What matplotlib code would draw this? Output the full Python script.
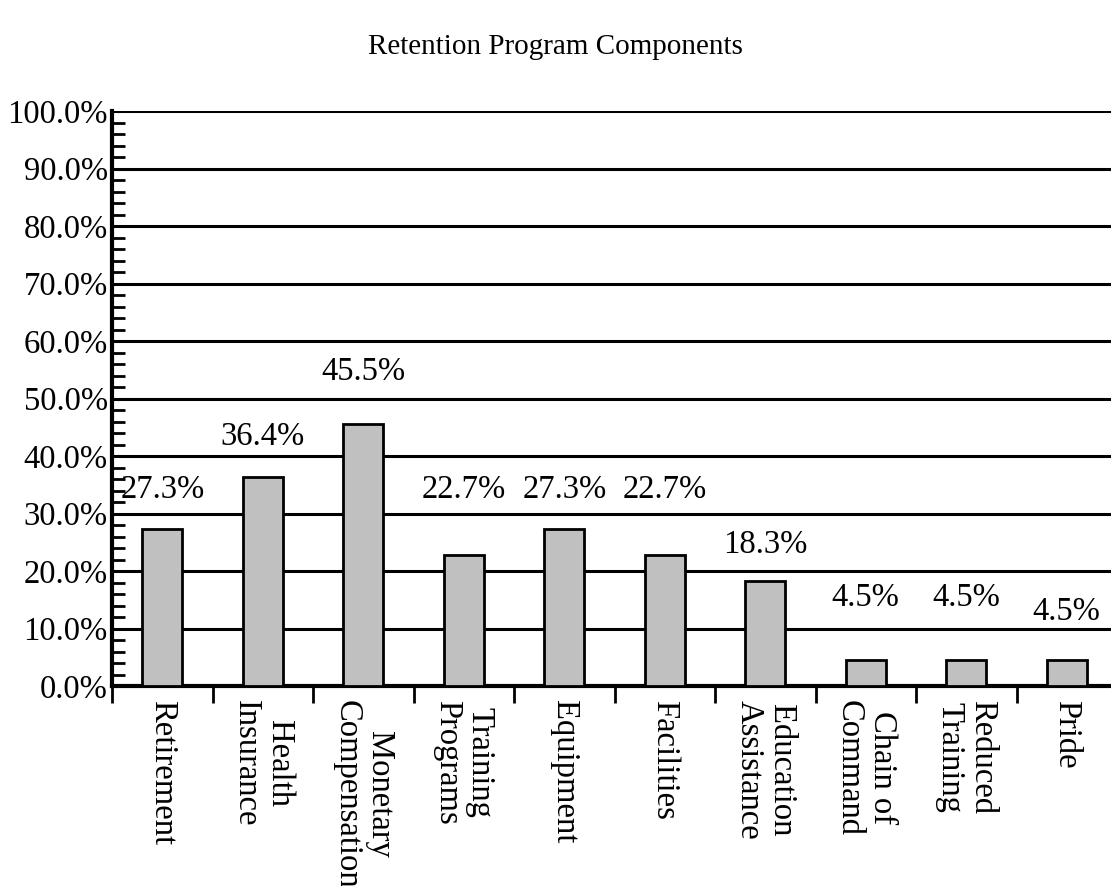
import numpy as np
import matplotlib
matplotlib.use("Agg")
import matplotlib.pyplot as plt
from matplotlib.ticker import MultipleLocator, FixedLocator, NullFormatter, FixedFormatter

plt.rcParams['font.family'] = ['Liberation Serif', 'DejaVu Serif']

# data
categories = ["Retirement", "Health\nInsurance", "Monetary\nCompensation", "Training\nPrograms",
              "Equipment", "Facilities", "Education\nAssistance", "Chain of\nCommand",
              "Reduced\nTraining", "Pride"]
values = [27.3, 36.4, 45.5, 22.7, 27.3, 22.7, 18.3, 4.5, 4.5, 4.5]
value_labels = ["27.3%", "36.4%", "45.5%", "22.7%", "27.3%", "22.7%", "18.3%", "4.5%", "4.5%", "4.5%"]

# where the value labels sit (layout, in axis units)
label_y = [34.1, 43.3, 54.6, 34.1, 34.1, 34.1, 24.5, 15.3, 15.3, 13.0]

fig = plt.figure(figsize=(11.11, 8.86), dpi=100)
ax = fig.add_axes([112 / 1111, 200 / 886, 1005 / 1111, 575 / 886])

x = np.arange(len(categories))
ax.bar(x, values, width=0.4, color="#c0c0c0", edgecolor="black", linewidth=2, zorder=3)

for xi, ly, txt in zip(x, label_y, value_labels):
    ax.text(xi, ly, txt, ha="center", va="center", fontsize=23.5)

ax.set_xlim(-0.5, len(categories) - 0.5)
ax.set_ylim(0, 100)

# y axis
ax.yaxis.set_major_locator(MultipleLocator(10))
ax.yaxis.set_minor_locator(MultipleLocator(2))
ax.set_yticklabels([f"{v:.1f}%" for v in ax.get_yticks()], fontsize=23.5)
ax.tick_params(axis="y", which="major", direction="in", length=0, pad=3)
ax.tick_params(axis="y", which="minor", direction="in", length=9, width=2)
ax.grid(axis="y", which="major", color="black", linewidth=2.2, zorder=1)
ax.set_axisbelow(True)

# x axis: ticks at boundaries, labels at centres
ax.xaxis.set_major_locator(FixedLocator(np.arange(len(categories) + 1) - 0.5))
ax.xaxis.set_major_formatter(NullFormatter())
ax.xaxis.set_minor_locator(FixedLocator(x))
ax.xaxis.set_minor_formatter(FixedFormatter(categories))
ax.tick_params(axis="x", which="major", direction="out", length=12, width=2)
ax.tick_params(axis="x", which="minor", length=0, pad=10, labelsize=23.5)
for lbl in ax.get_xticklabels(minor=True):
    lbl.set_rotation(270)
    lbl.set_va("top")
    lbl.set_ha("center")
    lbl.set_multialignment("center")
    lbl.set_linespacing(1.1)

for side in ["top", "right"]:
    ax.spines[side].set_visible(False)
ax.spines["left"].set_linewidth(3)
ax.spines["bottom"].set_linewidth(3)

fig.text(0.5, 1 - 47 / 886, "Retention Program Components", ha="center", va="center", fontsize=21)

fig.savefig("out.png", dpi=100)
